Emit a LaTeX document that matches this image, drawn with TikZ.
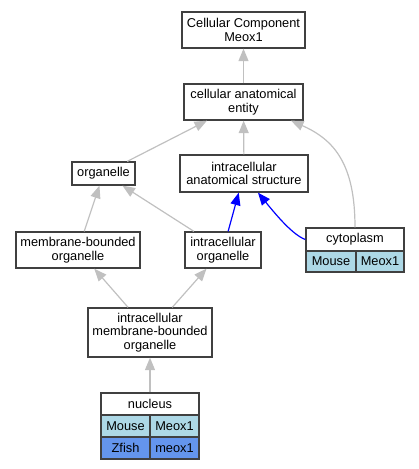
\documentclass[tikz,border=0pt]{standalone}
\usepackage{fontspec}
\setmainfont{Liberation Sans}
\usetikzlibrary{arrows.meta}
\definecolor{edgegray}{HTML}{C0C0C0}
\definecolor{boxline}{HTML}{404040}
\definecolor{mousebg}{HTML}{ADD8E6}
\definecolor{fishbg}{HTML}{6495ED}
\tikzset{
  box/.style={draw=boxline, line width=1.3pt, fill=white, inner sep=0pt, align=center,
    font=\fontsize{12.8}{13.6}\selectfont},
  cell/.style={box, minimum height=22pt},
  gedge/.style={draw=edgegray, line width=1.2pt, -{Triangle[length=12.5pt,width=10pt]}},
  bedge/.style={draw=blue, line width=1.2pt, -{Triangle[length=12.5pt,width=10pt]}},
}
\begin{document}
\begin{tikzpicture}[x=1pt,y=-1pt]
\useasboundingbox (0,0) rectangle (419,469);
\node[box, minimum width=123pt, minimum height=36pt] (ccm) at (243.5,30) {Cellular Component\\Meox1};
\node[box, minimum width=119pt, minimum height=36pt] (cae) at (243.5,102) {cellular anatomical\\entity};
\node[box, minimum width=63pt, minimum height=23pt] (org) at (103.5,173.5) {organelle};
\node[box, minimum width=128pt, minimum height=37pt] (ias) at (244,173.5) {intracellular\\anatomical structure};
\node[box, minimum width=124pt, minimum height=36pt] (mbo) at (78,250) {membrane-bounded\\organelle};
\node[box, minimum width=76pt, minimum height=36pt] (io) at (223,250) {intracellular\\organelle};
\node[box, minimum width=124pt, minimum height=49pt] (imbo) at (150,332.5) {intracellular\\membrane-bounded\\organelle};
% cytoplasm table
\node[cell, minimum width=98pt, minimum height=23pt] (cyto) at (355,239.5) {cytoplasm};
\node[cell, fill=mousebg, minimum width=50pt, minimum height=21pt] (cytoM) at (331,261.5) {Mouse};
\node[cell, fill=mousebg, minimum width=48pt, minimum height=21pt] (cytoG) at (380,261.5) {Meox1};
% nucleus table
\node[cell, minimum width=98pt] (nuc) at (150,404) {nucleus};
\node[cell, fill=mousebg, minimum width=49pt] (nucM) at (125.5,426) {Mouse};
\node[cell, fill=mousebg, minimum width=49pt] (nucG) at (174.5,426) {Meox1};
\node[cell, fill=fishbg, minimum width=49pt] (nucZ) at (125.5,448) {Zfish};
\node[cell, fill=fishbg, minimum width=49pt] (nucZG) at (174.5,448) {meox1};
% edges
\draw[gedge] (cae) -- (ccm);
\draw[gedge] (org) -- (cae);
\draw[gedge] (ias) -- (cae);
\draw[gedge] (cyto.north) .. controls (355,165) and (335,140) .. ([xshift=47.5pt]cae.south);
\draw[gedge] (mbo) -- (org);
\draw[gedge] (io) -- (org);
\draw[bedge] (io) -- (ias);
\draw[bedge] (cyto.west) .. controls (293,235) and (277,216) .. ([xshift=14pt]ias.south);
\draw[gedge] (imbo) -- (mbo);
\draw[gedge] (imbo) -- (io);
\draw[gedge] (nuc) -- (imbo);
\end{tikzpicture}
\end{document}
